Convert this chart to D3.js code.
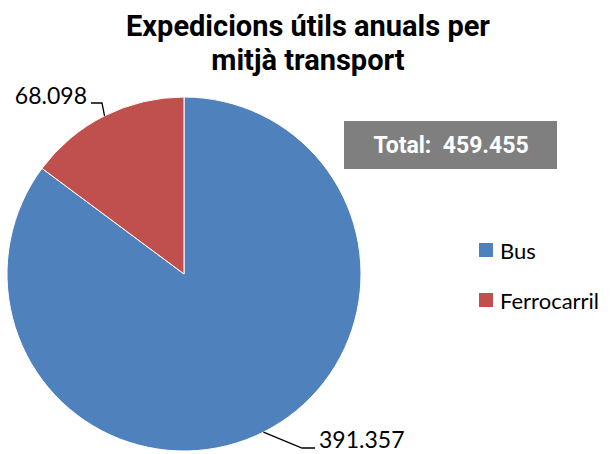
<!DOCTYPE html>
<html lang="ca">
<head>
<meta charset="UTF-8">
<title>Expedicions útils anuals per mitjà transport</title>
<script src="https://d3js.org/d3.v7.min.js"></script>
<style>
    body, html { margin: 0; padding: 0; background: #fff; }
</style>
</head>
<body>
<div id="chart"></div>
<script>
    const categories = ["Bus", "Ferrocarril"];
    const values = [391357, 68098];
    const colors = ["#4F81BD", "#C0504D"];
    const titleLines = ["Expedicions útils anuals per", "mitjà transport"];
    const totalLabel = "Total:\u00a0\u00a0459.455";

    const width = 614, height = 454;
    const cx = 184, cy = 274, radius = 177;

    const fmt = v => d3.format(",")(v).replace(/,/g, ".");

    const svg = d3.select("#chart").append("svg")
        .attr("width", width)
        .attr("height", height);

    // title
    svg.append("g").selectAll("text")
        .data(titleLines)
        .enter().append("text")
        .attr("x", 308)
        .attr("y", (d, i) => 36 + i * 34)
        .attr("text-anchor", "middle")
        .style("font-family", "Roboto")
        .style("font-weight", "bold")
        .style("font-size", "29px")
        .text(d => d);

    const data = categories.map((c, i) => ({ name: c, value: values[i], color: colors[i] }));

    const pie = d3.pie().value(d => d.value).sort(null);
    const arc = d3.arc().innerRadius(0).outerRadius(radius);

    const g = svg.append("g").attr("transform", `translate(${cx},${cy})`);

    const arcs = pie(data);
    g.selectAll("path")
        .data(arcs)
        .enter().append("path")
        .attr("d", arc)
        .attr("fill", d => d.data.color)
        .attr("stroke", "#fff")
        .attr("stroke-width", 1);

    // leader lines + labels (start at middle of each slice edge)
    const labelFont = "Lato";
    const leaders = [
        { bend: [302 - cx, 448 - cy], end: [315 - cx, 448 - cy], tx: 319 - cx, ty: 448 - cy, anchor: "start" },
        { bend: [102 - cx, 103 - cy], end: [91 - cx, 103 - cy], tx: 87 - cx, ty: 104 - cy, anchor: "end" }
    ];
    leaders.forEach((l, i) => {
        const d = arcs[i];
        const a = (d.startAngle + d.endAngle) / 2;
        const p0 = [Math.sin(a) * radius, -Math.cos(a) * radius];
        g.append("path")
            .attr("d", d3.line()([p0, l.bend, l.end]))
            .attr("fill", "none")
            .attr("stroke", "#000")
            .attr("stroke-width", 1.3);
        g.append("text")
            .attr("x", l.tx)
            .attr("y", l.ty)
            .attr("text-anchor", l.anchor)
            .style("font-family", labelFont)
            .style("font-size", "23px")
            .text(fmt(d.data.value));
    });

    // total box
    svg.append("rect")
        .attr("x", 344).attr("y", 121)
        .attr("width", 213).attr("height", 48)
        .attr("fill", "#7F7F7F");
    svg.append("text")
        .attr("x", 451).attr("y", 153)
        .attr("text-anchor", "middle")
        .style("font-family", "Roboto")
        .style("font-weight", "bold")
        .style("font-size", "23px")
        .attr("fill", "#fff")
        .text(totalLabel);

    // legend
    const legend = svg.append("g").attr("transform", "translate(479,243)");
    const items = legend.selectAll("g")
        .data(data)
        .enter().append("g")
        .attr("transform", (d, i) => `translate(0,${i * 50})`);
    items.append("rect")
        .attr("width", 14).attr("height", 14)
        .attr("fill", d => d.color);
    items.append("text")
        .attr("x", 21).attr("y", 16)
        .style("font-family", labelFont)
        .style("font-size", "22px")
        .text(d => d.name);
</script>
</body>
</html>
